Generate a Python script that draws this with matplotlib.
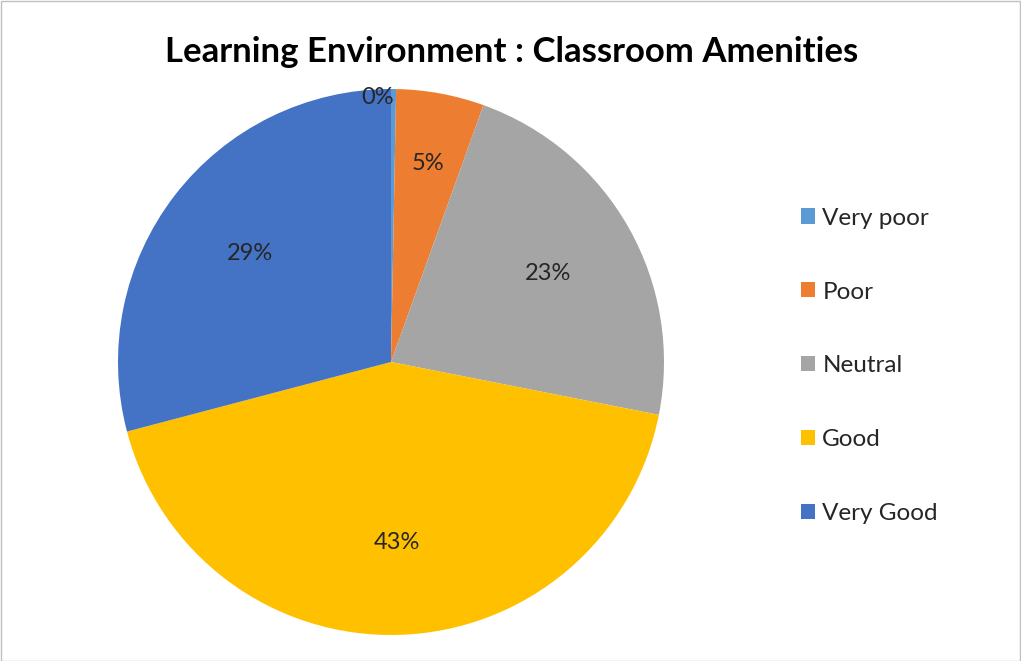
import matplotlib
matplotlib.use("Agg")
import matplotlib.pyplot as plt
from matplotlib.patches import Rectangle, Patch
import numpy as np

categories = ["Very poor", "Poor", "Neutral", "Good", "Very Good"]
values = [0.3, 5.2, 22.6, 42.8, 29.1]
colors = ["#5B9BD5", "#ED7D31", "#A5A5A5", "#FFC000", "#4472C4"]
title = "Learning Environment : Classroom Amenities"

plt.rcParams['font.family'] = ['Lato', 'DejaVu Sans']

W, H = 1021, 661
fig = plt.figure(figsize=(W / 100, H / 100), dpi=100)

cx, cy, r = 391, 362, 273
ax = fig.add_axes([(cx - r) / W, (H - cy - r) / H, 2 * r / W, 2 * r / H])
wedges, texts, autotexts = ax.pie(values, colors=colors, startangle=90, counterclock=False,
                                  autopct=lambda p: f"{p:.0f}%", pctdistance=0.66,
                                  wedgeprops=dict(linewidth=0),
                                  textprops=dict(fontsize=17, color="#262626"))
ax.set_xlim(-1, 1)
ax.set_ylim(-1, 1)
ax.set_aspect('auto')

dist = [0.97, 0.74, 0.66, 0.66, 0.65]
for w, t, d in zip(wedges, autotexts, dist):
    ang = np.deg2rad((w.theta1 + w.theta2) / 2)
    t.set_position((d * np.cos(ang), d * np.sin(ang)))
autotexts[0].set_ha('right')

fig.text(512 / W, 1 - 52 / H, title, ha='center', va='center', fontsize=25, fontweight='bold', color='black')

handles = [Patch(facecolor=c, edgecolor='none') for c in colors]
leg = fig.legend(handles, categories, loc='center left', bbox_to_anchor=(779 / W, 1 - 366 / H),
                 frameon=False, fontsize=17.5, labelspacing=2.18, handlelength=0.58, handleheight=0.58,
                 handletextpad=0.3, labelcolor="#262626")

fig.add_artist(Rectangle((0.5 / W, 0.5 / H), 1 - 1.5 / W, 1 - 1.5 / H, transform=fig.transFigure,
                         fill=False, edgecolor="#BFBFBF", linewidth=1))

fig.savefig("out.png", dpi=100)
